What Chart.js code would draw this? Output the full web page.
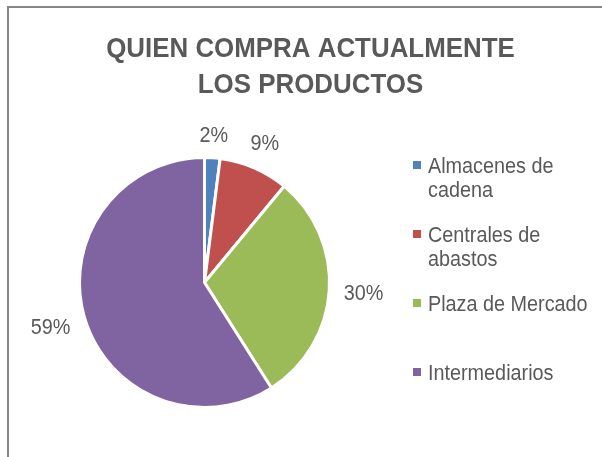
<!DOCTYPE html>
<html>
<head>
<meta charset="utf-8">
<script src="https://cdn.jsdelivr.net/npm/chart.js@4.4.1/dist/chart.umd.min.js"></script>
<style>
    html, body { margin: 0; padding: 0; background: #fff; }
    .chart-box { position: relative; width: 602px; height: 457px; }
</style>
</head>
<body>
<div class="chart-box"><canvas id="buyersChart"></canvas></div>
<script>
// Data
const titleLines = ['QUIEN COMPRA ACTUALMENTE', 'LOS PRODUCTOS'];
const categories = ['Almacenes de cadena', 'Centrales de abastos', 'Plaza de Mercado', 'Intermediarios'];
const shares = [2, 9, 30, 59];
const sliceColors = ['#4F81BD', '#C0504D', '#9BBB59', '#8064A2'];

const FONT = '"Liberation Sans", Arial, sans-serif';
const TEXT = '#595959';

// no narrow font installed, so squeeze text horizontally
function narrowText(ctx, txt, x, y, sx, align) {
    const w = ctx.measureText(txt).width * sx;
    let left = x;
    if (align === 'center') left = x - w / 2;
    ctx.save();
    ctx.translate(left, y);
    ctx.scale(sx, 1);
    ctx.textAlign = 'left';
    ctx.fillText(txt, 0, 0);
    ctx.restore();
}

// wrap legend text into lines no wider than maxW
function wrapText(ctx, text, maxW, sx) {
    const words = text.split(' ');
    const lines = [];
    let line = '';
    words.forEach(function (w) {
        const test = line ? line + ' ' + w : w;
        if (line && ctx.measureText(test).width * sx > maxW) {
            lines.push(line);
            line = w;
        } else {
            line = test;
        }
    });
    if (line) lines.push(line);
    return lines;
}

// frame, title, legend and outside labels (Excel look)
const excelDecor = {
    id: 'excelDecor',
    beforeDraw(chart) {
        const ctx = chart.ctx;
        ctx.save();
        ctx.strokeStyle = '#878787';
        ctx.lineWidth = 2;
        ctx.strokeRect(8, 7, 700, 600);
        ctx.restore();
    },
    afterDraw(chart) {
        const ctx = chart.ctx;
        const total = shares.reduce((a, b) => a + b, 0);
        ctx.save();

        // Title
        ctx.fillStyle = TEXT;
        ctx.font = 'bold 28px ' + FONT;
        ctx.textBaseline = 'alphabetic';
        titleLines.forEach(function (t, i) {
            narrowText(ctx, t, 310.5, 57 + i * 36, 0.925, 'center');
        });

        // Percentage labels outside each slice
        ctx.font = '22px ' + FONT;
        ctx.textBaseline = 'middle';
        const meta = chart.getDatasetMeta(0);
        meta.data.forEach(function (arc, i) {
            const p = arc.getProps(['x', 'y', 'startAngle', 'endAngle', 'outerRadius'], true);
            const mid = (p.startAngle + p.endAngle) / 2;
            const txt = Math.round(shares[i] / total * 100) + '%';
            const hw = ctx.measureText(txt).width * 0.9 / 2;
            const hh = 8;
            const c = Math.cos(mid), s = Math.sin(mid);
            const r = p.outerRadius + 14 + hw * Math.abs(c) + hh * Math.abs(s);
            narrowText(ctx, txt, p.x + c * r, p.y + s * r + 1, 0.9, 'center');
        });

        // Legend
        ctx.textBaseline = 'alphabetic';
        categories.forEach(function (name, i) {
            const base = 173 + i * 69;
            ctx.fillStyle = sliceColors[i];
            ctx.fillRect(413, base - 12, 8, 8);
            ctx.fillStyle = TEXT;
            wrapText(ctx, name, 172, 0.9).forEach(function (ln, j) {
                narrowText(ctx, ln, 428, base + j * 24, 0.9, 'left');
            });
        });
        ctx.restore();
    }
};

const buyersCtx = document.getElementById('buyersChart').getContext('2d');
const buyersChart = new Chart(buyersCtx, {
    type: 'pie',
    data: {
        labels: categories,
        datasets: [{
            data: shares,
            backgroundColor: sliceColors,
            borderColor: '#ffffff',
            borderWidth: 3,
            hoverOffset: 0
        }]
    },
    options: {
        responsive: true,
        maintainAspectRatio: false,
        animation: false,
        layout: {
            padding: { left: 78, top: 156, right: 271, bottom: 48 }
        },
        plugins: {
            legend: { display: false },
            title: { display: false },
            tooltip: { enabled: false }
        }
    },
    plugins: [excelDecor]
});
</script>
</body>
</html>
